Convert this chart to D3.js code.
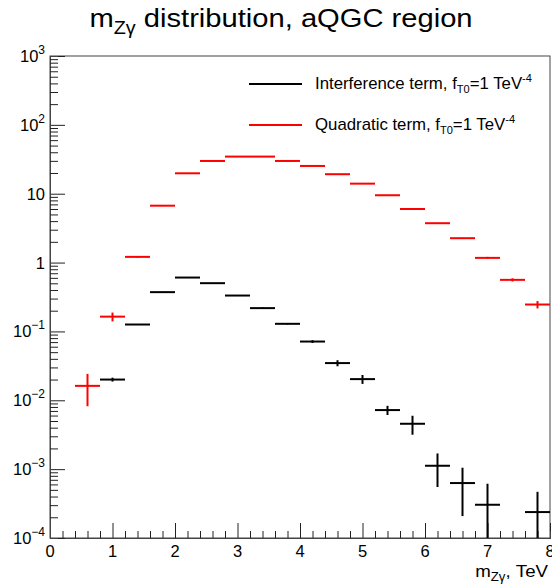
<!DOCTYPE html>
<html>
<head>
<meta charset="utf-8">
<script src="https://cdn.jsdelivr.net/npm/d3@7"></script>
<style>
  body { margin: 0; background: #fff; }
  svg { display: block; font-family: "Liberation Sans", Arial, Helvetica, sans-serif; }
</style>
</head>
<body>
<div id="chart"></div>
<script>
// bin centres (TeV), bin width 0.4
const binCenters = [0.6, 1.0, 1.4, 1.8, 2.2, 2.6, 3.0, 3.4, 3.8, 4.2, 4.6, 5.0, 5.4, 5.8, 6.2, 6.6, 7.0, 7.4, 7.8];
const binHalfWidth = 0.2;

// Quadratic term, f_T0 = 1 TeV^-4 (red)
const quadValues = [0.0162, 0.164, 1.21, 6.7, 19.8, 29.9, 34.6, 34.6, 29.9, 25.3, 19.2, 14.0, 9.5, 6.0, 3.73, 2.26, 1.17, 0.561, 0.246];
const quadErrors = [0.008, 0.024, 0.03, 0.1, 0.2, 0.3, 0.3, 0.3, 0.3, 0.2, 0.2, 0.1, 0.08, 0.05, 0.03, 0.03, 0.04, 0.03, 0.03];

// Interference term, f_T0 = 1 TeV^-4 (black); null = not drawn
const interfValues = [null, 0.0200, 0.126, 0.372, 0.606, 0.502, 0.332, 0.218, 0.129, 0.0713, 0.0347, 0.0203, 0.00721, 0.00456, 0.00112, 0.000628, 0.000304, null, 0.000238];
const interfErrors = [null, 0.0013, 0.002, 0.004, 0.005, 0.004, 0.004, 0.005, 0.003, 0.0033, 0.0035, 0.003, 0.0011, 0.0014, 0.00057, 0.00042, 0.00031, null, 0.00023];

const xMajorTicks = [0, 1, 2, 3, 4, 5, 6, 7, 8];
const yMajorTicks = [1e-4, 1e-3, 1e-2, 1e-1, 1, 10, 1e2, 1e3];
const yTickLabels = [["10", "\u22124"], ["10", "\u22123"], ["10", "\u22122"], ["10", "\u22121"], ["1", null], ["10", null], ["10", "2"], ["10", "3"]];

const width = 552, height = 585;
const frame = { left: 50, right: 550, top: 56, bottom: 538 };

const svg = d3.select("#chart").append("svg")
    .attr("width", width)
    .attr("height", height);

const x = d3.scaleLinear().domain([0, 8]).range([frame.left, frame.right]);
const y = d3.scaleLog().domain([1e-4, 1e3]).range([frame.bottom, frame.top]);

// minor ticks
const xMinor = d3.range(0, 8.001, 0.2).filter(v => Math.abs(v - Math.round(v)) > 1e-6);
const yMinor = [];
yMajorTicks.slice(0, -1).forEach(d => { for (let k = 2; k <= 9; k++) yMinor.push(d * k); });

// frame
svg.append("rect")
    .attr("x", frame.left).attr("y", frame.top)
    .attr("width", frame.right - frame.left).attr("height", frame.bottom - frame.top)
    .attr("fill", "none").attr("stroke", "#444").attr("stroke-width", 1);

// axes (ticks drawn inside the frame, ROOT style)
const xAxisG = svg.append("g").attr("transform", `translate(0,${frame.bottom})`);
xAxisG.append("g").call(d3.axisBottom(x).tickValues(xMajorTicks).tickSize(-15).tickFormat(""));
xAxisG.append("g").call(d3.axisBottom(x).tickValues(xMinor).tickSize(-7).tickFormat(""));
const yAxisG = svg.append("g").attr("transform", `translate(${frame.left},0)`);
yAxisG.append("g").call(d3.axisLeft(y).tickValues(yMajorTicks).tickSize(-15).tickFormat(""));
yAxisG.append("g").call(d3.axisLeft(y).tickValues(yMinor).tickSize(-8).tickFormat(""));
svg.selectAll(".domain").attr("stroke", "#444");
svg.selectAll(".tick line").attr("stroke", "#222");

// x tick labels
svg.append("g").selectAll("text").data(xMajorTicks).join("text")
    .attr("x", d => x(d))
    .attr("y", frame.bottom + 19)
    .attr("text-anchor", "middle")
    .attr("font-size", 16.5)
    .text(d => d);

// y tick labels
const yl = svg.append("g").selectAll("text").data(yMajorTicks).join("text")
    .attr("x", frame.left - 5)
    .attr("y", d => y(d) + 6)
    .attr("text-anchor", "end")
    .attr("font-size", 16.5);
yl.each(function (d, i) {
    const [base, exp] = yTickLabels[i];
    const t = d3.select(this);
    t.append("tspan").text(base);
    if (exp) {
        t.append("tspan").attr("font-size", 12).attr("dy", -8).text(exp);
    }
});

// axis title (ROOT text is a bit wider than Liberation Sans)
const xt = svg.append("text")
    .attr("transform", "translate(548,577) scale(1.1,1)")
    .attr("text-anchor", "end")
    .attr("font-size", 17);
xt.append("tspan").text("m");
xt.append("tspan").attr("font-size", 12).attr("dy", 4).text("Z\u03b3");
xt.append("tspan").attr("dy", -4).text(", TeV");

// title
const title = svg.append("text")
    .attr("transform", "translate(281,27) scale(1.1,1)")
    .attr("text-anchor", "middle")
    .attr("font-size", 26.5);
title.append("tspan").text("m");
title.append("tspan").attr("font-size", 18).attr("dy", 7).text("Z\u03b3");
title.append("tspan").attr("dy", -7).text(" distribution, aQGC region");

// histograms with error bars
svg.append("clipPath").attr("id", "clip").append("rect")
    .attr("x", frame.left).attr("y", frame.top)
    .attr("width", frame.right - frame.left).attr("height", frame.bottom - frame.top);
const plot = svg.append("g").attr("clip-path", "url(#clip)");

function drawHist(values, errors, color) {
    const pts = binCenters.map((c, i) => ({ c, v: values[i], e: errors[i] })).filter(d => d.v != null);
    const g = plot.append("g").attr("stroke", color).attr("stroke-width", 2);
    g.selectAll("line.h").data(pts).join("line").attr("class", "h")
        .attr("x1", d => x(d.c - binHalfWidth))
        .attr("x2", d => x(d.c + binHalfWidth))
        .attr("y1", d => y(d.v)).attr("y2", d => y(d.v));
    g.selectAll("line.v").data(pts).join("line").attr("class", "v")
        .attr("x1", d => x(d.c)).attr("x2", d => x(d.c))
        .attr("y1", d => y(d.v + d.e))
        .attr("y2", d => d.v - d.e > 1e-5 ? y(d.v - d.e) : frame.bottom + 5);
}
drawHist(quadValues, quadErrors, "#ff0000");
drawHist(interfValues, interfErrors, "#000000");

// legend
const legendItems = [
    { color: "#000000", label: "Interference term, f", y: 84 },
    { color: "#ff0000", label: "Quadratic term, f", y: 125 }
];
const lg = svg.append("g");
legendItems.forEach(it => {
    lg.append("line")
        .attr("x1", 249).attr("x2", 302)
        .attr("y1", it.y).attr("y2", it.y)
        .attr("stroke", it.color).attr("stroke-width", 2);
    const t = lg.append("text")
        .attr("transform", `translate(315,${it.y + 5}) scale(1.05,1)`)
        .attr("font-size", 16);
    t.append("tspan").text(it.label);
    t.append("tspan").attr("font-size", 10.5).attr("dy", 4).text("T0");
    t.append("tspan").attr("dy", -4).text("=1 TeV");
    t.append("tspan").attr("font-size", 10.5).attr("dy", -7).text("-4");
});
</script>
</body>
</html>
